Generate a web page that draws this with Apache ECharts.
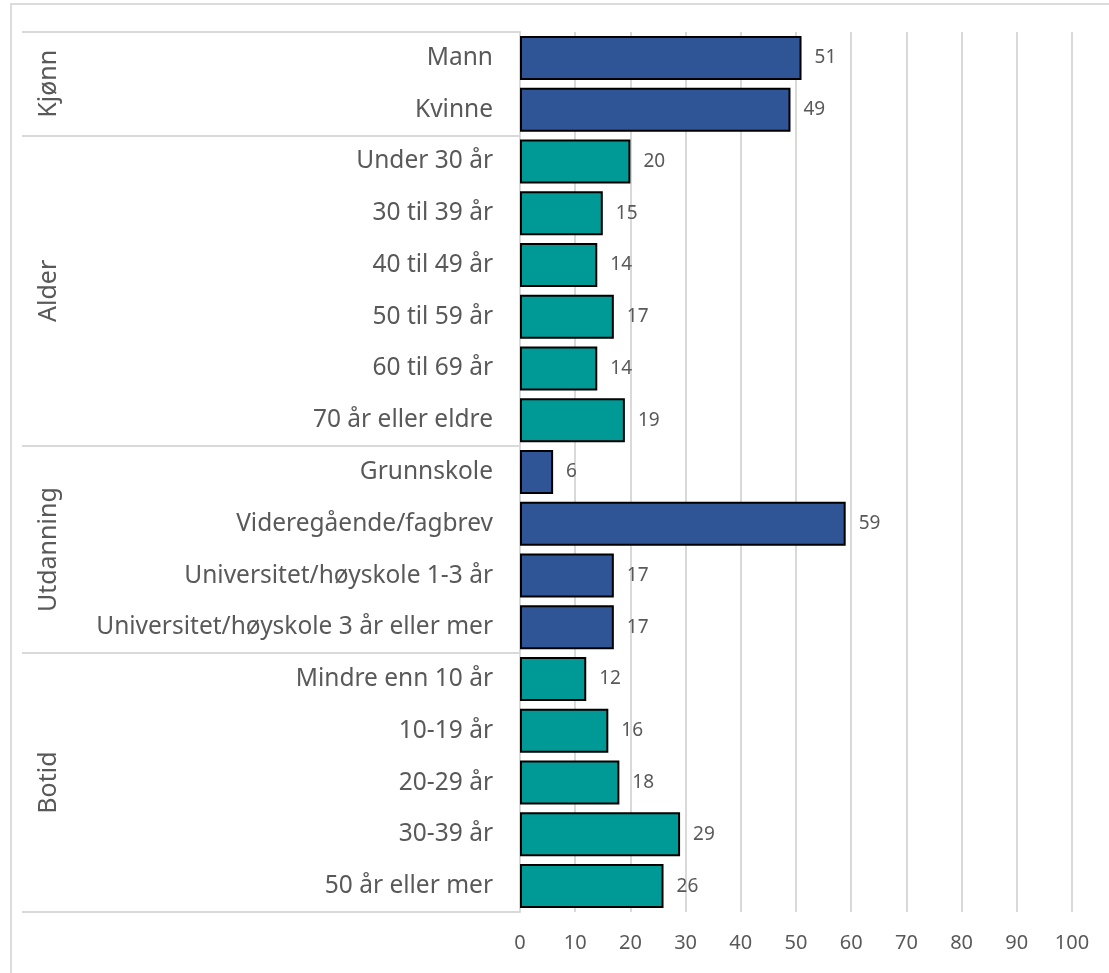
<!DOCTYPE html>
<html>
<head>
<meta charset="utf-8">
<script src="https://cdn.jsdelivr.net/npm/echarts@6/dist/echarts.min.js"></script>
<style>
    html, body { margin: 0; padding: 0; background: #fff; }
    .frame { position: absolute; left: 10px; top: 3px; right: 0; bottom: 0; border-left: 2px solid #dcdcdc; border-top: 2px solid #dcdcdc; }
    #chart { position: absolute; left: 0; top: 0; width: 1109px; height: 973px; }
</style>
</head>
<body>
<div class="frame"></div>
<div id="chart"></div>
<script>
const categories = [
    'Mann', 'Kvinne',
    'Under 30 år', '30 til 39 år', '40 til 49 år', '50 til 59 år', '60 til 69 år', '70 år eller eldre',
    'Grunnskole', 'Videregående/fagbrev', 'Universitet/høyskole 1-3 år', 'Universitet/høyskole 3 år eller mer',
    'Mindre enn 10 år', '10-19 år', '20-29 år', '30-39 år', '50 år eller mer'
]
const values = [51, 49, 20, 15, 14, 17, 14, 19, 6, 59, 17, 17, 12, 16, 18, 29, 26]
const groups = ['Kjønn', 'Alder', 'Utdanning', 'Botid']
const groupSizes = [2, 6, 4, 5]

const groupColors = ['#2f5597', '#009a96', '#2f5597', '#009a96']
const textColor = '#595959'
const lineColor = '#d9d9d9'

// group start/end positions on a 0..n scale
const groupEdges = [0]
groupSizes.forEach(function (s, i) { groupEdges.push(groupEdges[i] + s) })
const groupMids = groups.map(function (g, i) { return (groupEdges[i] + groupEdges[i + 1]) / 2 })

const barData = values.map(function (v, i) {
    let g = 0
    while (i >= groupEdges[g + 1]) g++
    return { value: v, itemStyle: { color: groupColors[g] } }
})

const chart = echarts.init(document.getElementById('chart'))
chart.setOption({
    animation: false,
    textStyle: { fontFamily: 'Noto Sans' },
    grid: { left: 520, right: 37, top: 32, bottom: 61 },
    xAxis: {
        type: 'value',
        min: 0,
        max: 100,
        interval: 10,
        axisLine: { show: false },
        axisTick: { show: false },
        axisLabel: { color: textColor, fontSize: 20, margin: 21 },
        splitLine: { lineStyle: { color: lineColor, width: 2 } }
    },
    yAxis: [
        {
            type: 'category',
            inverse: true,
            data: categories,
            axisLine: { show: true, lineStyle: { color: lineColor, width: 2 } },
            axisTick: { show: false },
            axisLabel: { color: textColor, fontSize: 24.5, margin: 27 }
        },
        {
            type: 'value',
            inverse: true,
            min: 0,
            max: categories.length,
            position: 'left',
            axisLine: { show: false },
            splitLine: { show: false },
            axisTick: {
                show: true,
                inside: false,
                length: 498,
                customValues: groupEdges,
                lineStyle: { color: lineColor, width: 2 }
            },
            axisLabel: {
                customValues: groupMids,
                rotate: 90,
                margin: 459,
                color: textColor,
                fontSize: 25,
                formatter: function (val) {
                    const i = groupMids.indexOf(val)
                    return i >= 0 ? groups[i] : ''
                }
            }
        }
    ],
    series: [
        {
            type: 'bar',
            yAxisIndex: 0,
            barCategoryGap: '15%',
            itemStyle: { borderColor: '#000', borderWidth: 2 },
            label: {
                show: true,
                position: 'right',
                distance: 13,
                color: textColor,
                fontSize: 19
            },
            data: barData
        }
    ]
})
</script>
</body>
</html>
